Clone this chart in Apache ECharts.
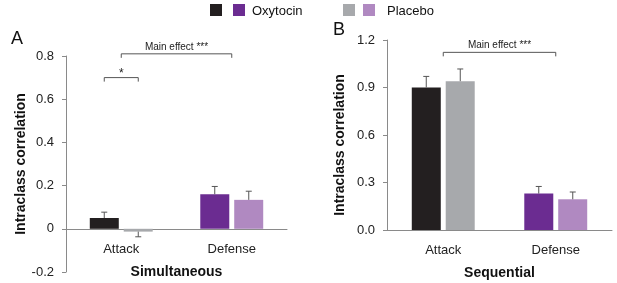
<!DOCTYPE html>
<html>
<head>
<meta charset="utf-8">
<script src="https://cdn.jsdelivr.net/npm/echarts@6/dist/echarts.min.js"></script>
<style>
  html, body { margin: 0; padding: 0; background: #fff; }
  #chart { width: 617px; height: 283px; }
</style>
</head>
<body>
<div id="chart"></div>
<script>
// categories and values
const categories = ['Attack', 'Defense']
// panel A (Simultaneous)
const simOxytocin = [0.05, 0.16]
const simOxytocinErr = [0.027, 0.036]
const simPlacebo = [-0.013, 0.134]
const simPlaceboErr = [0.024, 0.04]
// panel B (Sequential)
const seqOxytocin = [0.9, 0.23]
const seqOxytocinErr = [0.07, 0.045]
const seqPlacebo = [0.94, 0.194]
const seqPlaceboErr = [0.077, 0.046]
// significance brackets: [fromCategory, fromSide, toCategory, toSide, y, label]
// side: -1 oxytocin bar, 1 placebo bar, 0 category centre
const simBrackets = [
  [0, -1, 0, 1, 0.7, '*'],
  [0, 0, 1, 0, 0.81, 'Main effect ***']
]
const seqBrackets = [
  [0, 0, 1, 0, 1.122, 'Main effect ***']
]

const colors = {
  oxyAttack: '#231f20',
  oxyDefense: '#6b2c91',
  plaAttack: '#a7a9ac',
  plaDefense: '#b089c1'
}
const BAR_W = 29
const BAR_OFF = 17 // half of (bar width + gap)

// grid sizes
const gridA = { left: 66, top: 56, width: 221, height: 216 }
const gridB = { left: 387, top: 40, width: 225, height: 190 }
const yMinA = -0.2
const yMaxA = 0.8

const chart = echarts.init(document.getElementById('chart'))

function barData(vals, c1, c2) {
  return vals.map((v, i) => ({ value: v, itemStyle: { color: i === 0 ? c1 : c2 } }))
}

function errData(vals, errs, side) {
  return vals.map((v, i) => [i, v, errs[i], side])
}

function renderErr(params, api) {
  const cat = api.value(0)
  const v = api.value(1)
  const e = api.value(2)
  const side = api.value(3)
  const end = v >= 0 ? v + e : v - e
  const p0 = api.coord([cat, v])
  const p1 = api.coord([cat, end])
  const x = p0[0] + side * BAR_OFF
  const style = { stroke: '#555', lineWidth: 1 }
  return {
    type: 'group',
    children: [
      { type: 'line', shape: { x1: x, y1: p0[1], x2: x, y2: p1[1] }, style: style },
      { type: 'line', shape: { x1: x - 3, y1: p1[1], x2: x + 3, y2: p1[1] }, style: style }
    ]
  }
}

function renderBracket(params, api) {
  const y = api.value(4)
  const a = api.coord([api.value(0), y])
  const b = api.coord([api.value(2), y])
  const x1 = a[0] + api.value(1) * BAR_OFF
  const x2 = b[0] + api.value(3) * BAR_OFF
  const py = a[1]
  const label = api.value(5)
  const isStar = label === '*'
  const style = { stroke: '#555', lineWidth: 1, fill: null }
  return {
    type: 'group',
    children: [
      { type: 'polyline', shape: { points: [[x1, py + 4], [x1, py], [x2, py], [x2, py + 4]] }, style: style },
      {
        type: 'text',
        x: (x1 + x2) / 2,
        y: isStar ? py + 2 : py - 2,
        style: {
          text: label,
          fill: '#222',
          font: (isStar ? '12px' : '10px') + ' "Liberation Sans", Arial, sans-serif',
          align: 'center',
          verticalAlign: 'bottom'
        }
      }
    ]
  }
}

const axisColor = '#8a8a8a'
const font = '"Liberation Sans", Arial, sans-serif'

function xAxisOpt(gridIndex, name, offset) {
  return {
    type: 'category',
    gridIndex: gridIndex,
    data: categories,
    name: name,
    nameLocation: 'middle',
    nameGap: 36,
    nameTextStyle: { fontFamily: font, fontWeight: 'bold', fontSize: 14, color: '#111' },
    offset: offset,
    axisLine: { onZero: false, lineStyle: { color: axisColor } },
    axisTick: { length: 5, lineStyle: { color: axisColor } },
    axisLabel: { fontFamily: font, fontSize: 13, color: '#222', margin: 14 }
  }
}

function yAxisOpt(gridIndex, min, max, interval, fmt, gap, pad) {
  return {
    type: 'value',
    gridIndex: gridIndex,
    min: min,
    max: max,
    interval: interval,
    name: 'Intraclass correlation',
    nameLocation: 'middle',
    nameGap: gap,
    nameTextStyle: { fontFamily: font, fontWeight: 'bold', fontSize: 14, color: '#111', padding: pad },
    axisLine: { show: true, lineStyle: { color: axisColor } },
    axisTick: { show: true, length: 4, lineStyle: { color: axisColor } },
    splitLine: { show: false },
    axisLabel: { fontFamily: font, fontSize: 13, color: '#222', margin: 12, formatter: fmt }
  }
}

// panel A: x axis sits on the zero line
const zeroOffsetA = -((0 - yMinA) / (yMaxA - yMinA)) * gridA.height

chart.setOption({
  animation: false,
  backgroundColor: '#fff',
  grid: [
    Object.assign({ outerBoundsMode: 'none' }, gridA),
    Object.assign({ outerBoundsMode: 'none' }, gridB)
  ],
  xAxis: [xAxisOpt(0, 'Simultaneous', zeroOffsetA), xAxisOpt(1, 'Sequential', 0)],
  yAxis: [
    yAxisOpt(0, yMinA, yMaxA, 0.2, (v) => String(Math.round(v * 10) / 10), 38, [0, 0, 0, 0]),
    yAxisOpt(1, 0, 1.2, 0.3, (v) => v.toFixed(1), 40, [0, 20, 0, 0])
  ],
  graphic: [
    { type: 'text', left: 11, top: 30, style: { text: 'A', font: '18px ' + font, fill: '#111' } },
    { type: 'text', left: 333, top: 21, style: { text: 'B', font: '18px ' + font, fill: '#111' } },
    { type: 'rect', shape: { x: 210, y: 4, width: 12, height: 12 }, style: { fill: colors.oxyAttack } },
    { type: 'rect', shape: { x: 233, y: 4, width: 12, height: 12 }, style: { fill: colors.oxyDefense } },
    { type: 'text', left: 252, top: 5, style: { text: 'Oxytocin', font: '13px ' + font, fill: '#111' } },
    { type: 'rect', shape: { x: 343, y: 4, width: 12, height: 12 }, style: { fill: colors.plaAttack } },
    { type: 'rect', shape: { x: 363, y: 4, width: 12, height: 12 }, style: { fill: colors.plaDefense } },
    { type: 'text', left: 387, top: 5, style: { text: 'Placebo', font: '13px ' + font, fill: '#111' } }
  ],
  series: [
    {
      name: 'Oxytocin', type: 'bar', xAxisIndex: 0, yAxisIndex: 0,
      barWidth: BAR_W, barGap: '17%',
      data: barData(simOxytocin, colors.oxyAttack, colors.oxyDefense)
    },
    {
      name: 'Placebo', type: 'bar', xAxisIndex: 0, yAxisIndex: 0,
      barWidth: BAR_W, barGap: '17%',
      data: barData(simPlacebo, colors.plaAttack, colors.plaDefense)
    },
    {
      name: 'Oxytocin', type: 'bar', xAxisIndex: 1, yAxisIndex: 1,
      barWidth: BAR_W, barGap: '17%',
      data: barData(seqOxytocin, colors.oxyAttack, colors.oxyDefense)
    },
    {
      name: 'Placebo', type: 'bar', xAxisIndex: 1, yAxisIndex: 1,
      barWidth: BAR_W, barGap: '17%',
      data: barData(seqPlacebo, colors.plaAttack, colors.plaDefense)
    },
    {
      type: 'custom', xAxisIndex: 0, yAxisIndex: 0, renderItem: renderErr, z: 5,
      data: errData(simOxytocin, simOxytocinErr, -1).concat(errData(simPlacebo, simPlaceboErr, 1))
    },
    {
      type: 'custom', xAxisIndex: 1, yAxisIndex: 1, renderItem: renderErr, z: 5,
      data: errData(seqOxytocin, seqOxytocinErr, -1).concat(errData(seqPlacebo, seqPlaceboErr, 1))
    },
    { type: 'custom', xAxisIndex: 0, yAxisIndex: 0, renderItem: renderBracket, data: simBrackets },
    { type: 'custom', xAxisIndex: 1, yAxisIndex: 1, renderItem: renderBracket, data: seqBrackets }
  ]
})
</script>
</body>
</html>
